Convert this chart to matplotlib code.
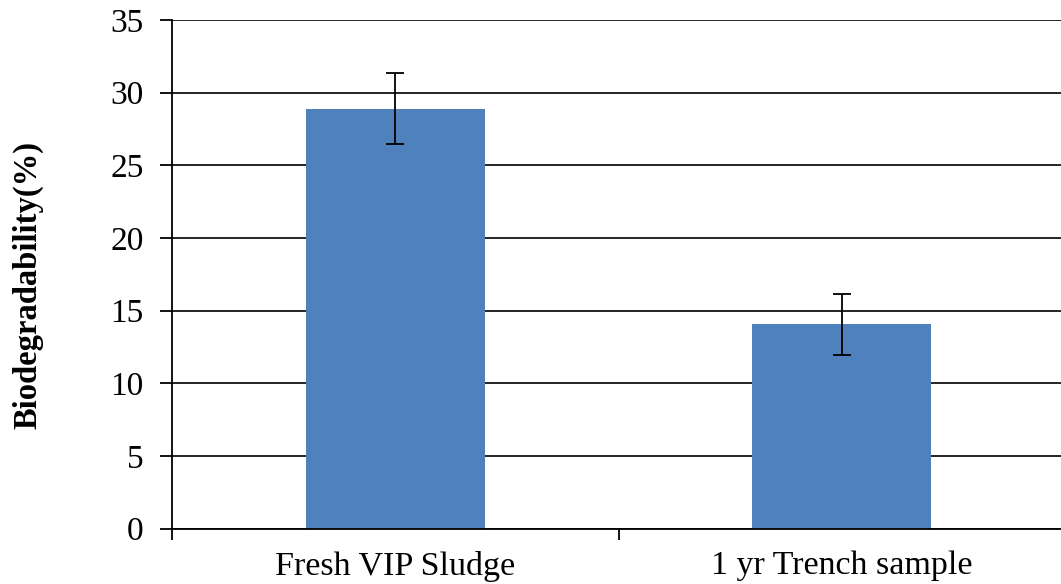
import matplotlib
matplotlib.use("Agg")
import matplotlib.pyplot as plt

# data
categories = ["Fresh VIP Sludge", "1 yr Trench sample"]
values = [28.9, 14.05]
errors = [2.45, 2.08]
yticks = [0, 5, 10, 15, 20, 25, 30, 35]

plt.rcParams["font.family"] = ["Liberation Serif", "DejaVu Serif"]

W, H = 1061, 584
fig = plt.figure(figsize=(W / 100, H / 100), dpi=100)
ax = fig.add_axes([172 / W, 1 - 528.7 / H, (1065 - 172) / W, (528.7 - 20) / H])

x = list(range(len(categories)))
ax.bar(x, values, width=0.4, color="#4F81BD", zorder=2)
ax.errorbar(x, values, yerr=errors, fmt="none", ecolor="black",
            elinewidth=1.3, capsize=6.5, capthick=1.3, zorder=3)

ax.set_xlim(-0.5, len(categories) - 0.5)
ax.set_ylim(0, 35)
ax.set_yticks(yticks)
ax.set_yticklabels([str(t) for t in yticks])
ax.yaxis.grid(True, color="black", linewidth=1.2, zorder=1)
ax.set_axisbelow(True)

ax.set_xticks(x)
ax.set_xticklabels(categories)
ax.set_xticks([-0.5, 0.5, 1.5], minor=True)
ax.tick_params(axis="x", which="major", length=0, pad=16, labelsize=24.5)
ax.tick_params(axis="x", which="minor", length=8, width=1.3, direction="out")
ax.tick_params(axis="y", length=8.6, width=1.3, direction="out", pad=12, labelsize=24)

for side in ["top", "right"]:
    ax.spines[side].set_visible(False)
for side in ["left", "bottom"]:
    ax.spines[side].set_linewidth(1.3)
    ax.spines[side].set_color("black")

fig.text(28 / W, 1 - 285 / H, "Biodegradability(%)", rotation=90,
         fontsize=23.5, fontweight="bold", ha="center", va="center")

fig.savefig("out.png", dpi=100)
